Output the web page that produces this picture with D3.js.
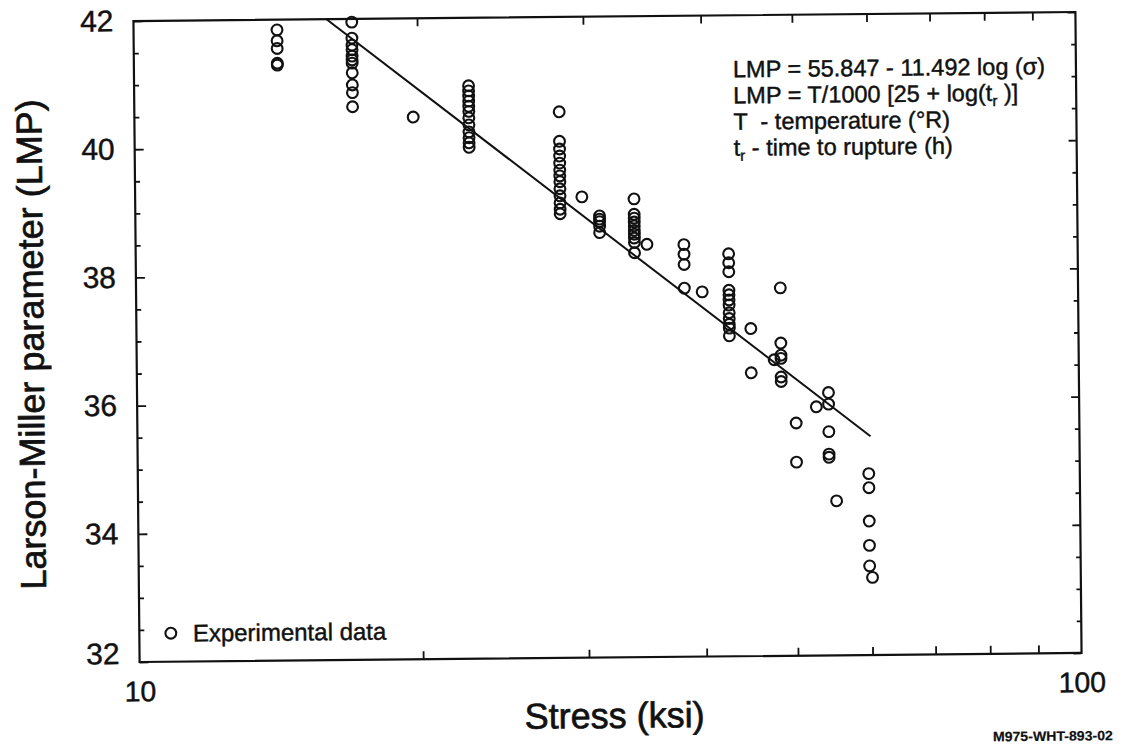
<!DOCTYPE html>
<html>
<head>
<meta charset="utf-8">
<script src="https://cdn.jsdelivr.net/npm/d3@7"></script>
<style>
  body { margin: 0; background: #fff; }
  svg { display: block; }
  text { font-family: "Liberation Sans", Arial, Helvetica, sans-serif; fill: #111; stroke: #111; stroke-width: 0.45px; }
</style>
</head>
<body>
<svg id="chart" width="1124" height="750"></svg>
<script>
// Creep rupture test results: stress level (ksi) and the Larson-Miller parameters measured at it
const stressLevels = [14.2, 17.05, 19.77, 22.65, 28.25, 29.8, 31.1, 33.85, 34.9, 38.2, 39.9,
                      42.6, 44.9, 47.5, 48.3, 50.05, 52.6, 54.2, 55.15, 59.7, 60.1];
const lmpAtLevel = [
  [41.84, 41.67, 41.55, 41.32, 41.29],
  [41.95, 41.70, 41.59, 41.52, 41.42, 41.36, 41.31, 41.16, 40.97, 40.85, 40.63],
  [40.46],
  [40.94, 40.86, 40.78, 40.70, 40.62, 40.54, 40.44, 40.33, 40.22, 40.13, 40.05, 39.98],
  [40.52, 40.06, 39.94, 39.83, 39.72, 39.61, 39.52, 39.43, 39.32, 39.21, 39.10, 39.00, 38.93],
  [39.19],
  [38.89, 38.84, 38.80, 38.73, 38.63],
  [39.15, 38.91, 38.85, 38.79, 38.73, 38.66, 38.60, 38.54, 38.47, 38.31],
  [38.44],
  [38.43, 38.28, 38.12, 37.75],
  [37.69],
  [38.28, 38.14, 38.00, 37.71, 37.64, 37.56, 37.48, 37.36, 37.27, 37.18, 37.12, 37.00],
  [37.11, 36.42],
  [36.62],
  [37.74, 36.88, 36.69, 36.64, 36.35, 36.28],
  [35.63, 35.02],
  [35.88],
  [36.10, 35.92, 35.49, 35.14, 35.09],
  [34.41],
  [34.83, 34.61, 34.09, 33.71, 33.39],
  [33.21]
];

// Regression: LMP = a - b log(stress), drawn over the tested stress span
const fitCoef = [55.847, 11.492];
const fitStressRange = [16.03, 60];

// Axis ticks
const yMajorTicks = [32, 34, 36, 38, 40, 42];
const yMinorTicks = [32.5, 33, 33.5, 34.5, 35, 35.5, 36.5, 37, 37.5, 38.5, 39, 39.5, 40.5, 41, 41.5];
const xLabelTicks = [10, 100];
const xMinorTicks = [20, 30, 40, 50, 60, 70, 80, 90];

// Text
const yTitle = "Larson-Miller parameter (LMP)";
const xTitle = "Stress (ksi)";
const legendLabel = "Experimental data";
const drawingId = "M975-WHT-893-02";

const ink = "#111";
const svg = d3.select("#chart");
svg.append("rect").attr("width", 1124).attr("height", 750).attr("fill", "#fff");

// The whole sheet sits very slightly askew
const page = svg.append("g").attr("transform", "rotate(-0.55 607.5 337)");

const plotLeft = 136.5, plotRight = 1078.5, plotTop = 16.5, plotBottom = 657.5;
const x = d3.scaleLog().domain([10, 100]).range([plotLeft, plotRight]);
const y = d3.scaleLinear().domain([32, 42]).range([plotBottom, plotTop]);

function styleAxis(g, fontSize) {
  g.select(".domain").remove();
  g.selectAll(".tick line").attr("stroke", ink).attr("stroke-width", 1.8);
  g.selectAll(".tick text").attr("fill", ink).attr("font-size", fontSize)
    .attr("font-family", '"Liberation Sans", Arial, sans-serif');
}

// Left axis
page.append("g").attr("transform", `translate(${plotLeft},0)`)
  .call(d3.axisLeft(y).tickValues(yMajorTicks).tickSizeInner(-9).tickSizeOuter(0).tickPadding(20).tickFormat(d3.format("d")))
  .call(g => styleAxis(g, 30))
  .call(g => g.selectAll(".tick text").filter(d => d === 32).attr("dy", "0.05em"));
page.append("g").attr("transform", `translate(${plotLeft},0)`)
  .call(d3.axisLeft(y).tickValues(yMinorTicks).tickSizeInner(-5).tickSizeOuter(0).tickFormat(""))
  .call(g => styleAxis(g, 0));

// Right axis
page.append("g").attr("transform", `translate(${plotRight},0)`)
  .call(d3.axisRight(y).tickValues(yMajorTicks).tickSizeInner(-8).tickSizeOuter(0).tickFormat(""))
  .call(g => styleAxis(g, 0));
page.append("g").attr("transform", `translate(${plotRight},0)`)
  .call(d3.axisRight(y).tickValues(yMinorTicks).tickSizeInner(-4.5).tickSizeOuter(0).tickFormat(""))
  .call(g => styleAxis(g, 0));

// Bottom axis
page.append("g").attr("transform", `translate(0,${plotBottom})`)
  .call(d3.axisBottom(x).tickValues(xLabelTicks).tickSizeInner(0).tickSizeOuter(0).tickPadding(19).tickFormat(d3.format("d")))
  .call(g => styleAxis(g, 28.5));
page.append("g").attr("transform", `translate(0,${plotBottom})`)
  .call(d3.axisBottom(x).tickValues(xMinorTicks).tickSizeInner(-8).tickSizeOuter(0).tickFormat(""))
  .call(g => styleAxis(g, 0));

// Top axis
page.append("g").attr("transform", `translate(0,${plotTop})`)
  .call(d3.axisTop(x).tickValues(xMinorTicks).tickSizeInner(-8).tickSizeOuter(0).tickFormat(""))
  .call(g => styleAxis(g, 0));

// Frame
page.append("rect")
  .attr("x", plotLeft).attr("y", plotTop).attr("width", plotRight - plotLeft).attr("height", plotBottom - plotTop)
  .attr("fill", "none").attr("stroke", ink).attr("stroke-width", 2.2);

// Fitted line
const fitPoints = fitStressRange.map(s => [s, fitCoef[0] - fitCoef[1] * Math.log10(s)]);
page.append("path")
  .datum(fitPoints)
  .attr("d", d3.line().x(d => x(d[0])).y(d => y(d[1])))
  .attr("fill", "none").attr("stroke", ink).attr("stroke-width", 2);

// Data points
const points = stressLevels.flatMap((s, i) => lmpAtLevel[i].map(v => ({ s, v })));
page.append("g").selectAll("circle")
  .data(points)
  .join("circle")
  .attr("cx", d => x(d.s)).attr("cy", d => y(d.v)).attr("r", 5.4)
  .attr("fill", "none").attr("stroke", ink).attr("stroke-width", 2.1);

// Equation block
const note = page.append("g").attr("font-size", 23.5);
const noteX = 735.5, noteY0 = 78.5, noteStep = 26.2;
note.append("text").attr("x", noteX).attr("y", noteY0).text("LMP = 55.847 - 11.492 log (\u03c3)");
const l2 = note.append("text").attr("x", noteX).attr("y", noteY0 + noteStep);
l2.append("tspan").text("LMP = T/1000 [25 + log(t");
l2.append("tspan").attr("font-size", 15).attr("dy", 5).text("r");
l2.append("tspan").attr("dy", -5).text(" )]");
note.append("text").attr("x", noteX).attr("y", noteY0 + 2 * noteStep).attr("xml:space", "preserve")
  .text("T  - temperature (\u00b0R)");
const l4 = note.append("text").attr("x", noteX).attr("y", noteY0 + 3 * noteStep).attr("xml:space", "preserve");
l4.append("tspan").text("t");
l4.append("tspan").attr("font-size", 15).attr("dy", 5).text("r");
l4.append("tspan").attr("dy", -5).text(" - time to rupture (h)");

// Legend
page.append("circle").attr("cx", 168).attr("cy", 629).attr("r", 5.4)
  .attr("fill", "none").attr("stroke", ink).attr("stroke-width", 2.1);
page.append("text").attr("x", 190).attr("y", 637.5).attr("font-size", 24).text(legendLabel);

// Axis titles
page.append("text")
  .attr("transform", "translate(43.5,339) rotate(-90)")
  .attr("text-anchor", "middle").attr("font-size", 36).style("stroke-width", "0.7px").text(yTitle);
page.append("text")
  .attr("x", 611).attr("y", 728).attr("text-anchor", "middle").attr("font-size", 36).style("stroke-width", "0.7px").text(xTitle);

// Drawing number
page.append("text")
  .attr("x", 989).attr("y", 745).attr("font-size", 13.5).attr("font-weight", "bold").style("stroke-width", "0.2px")
  .attr("textLength", 120).attr("lengthAdjust", "spacingAndGlyphs").text(drawingId);
</script>
</body>
</html>
